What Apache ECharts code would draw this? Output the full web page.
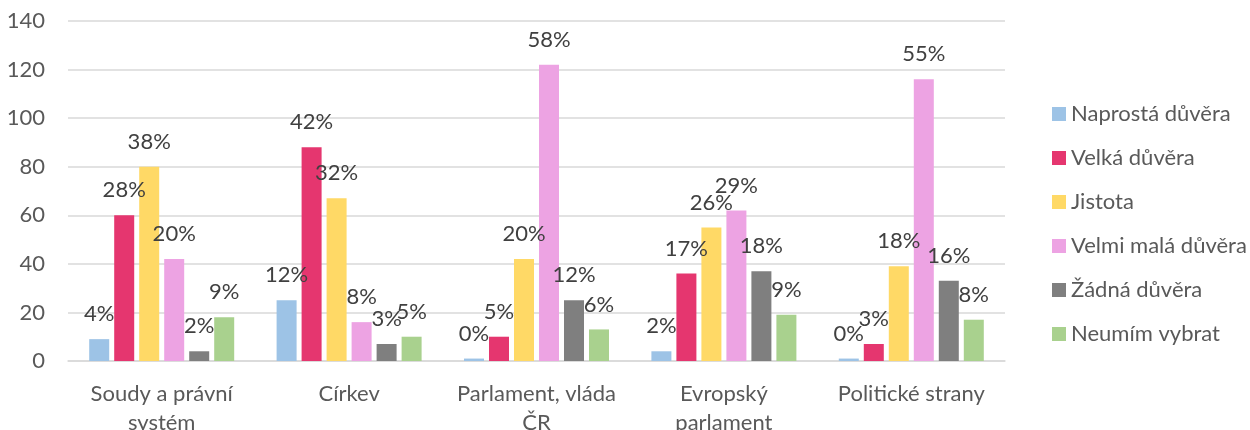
<!DOCTYPE html>
<html>
<head>
<meta charset="utf-8">
<script src="https://cdn.jsdelivr.net/npm/echarts@6/dist/echarts.min.js"></script>
<style>
  html, body { margin: 0; padding: 0; background: #fff; }
  #chart { width: 1250px; height: 430px; }
</style>
</head>
<body>
<div id="chart"></div>
<script>
// data
const categories = ["Soudy a právní\nsystém", "Církev", "Parlament, vláda\nČR", "Evropský\nparlament", "Politické strany"];
const seriesNames = ["Naprostá důvěra", "Velká důvěra", "Jistota", "Velmi malá důvěra", "Žádná důvěra", "Neumím vybrat"];
const colors = ["#9dc3e6", "#e5366f", "#ffd966", "#eda3e3", "#7f7f7f", "#a9d18e"];

const naprosta = [9, 25, 1, 4, 1];
const velka = [60, 88, 10, 36, 7];
const jistota = [80, 67, 42, 55, 39];
const velmiMala = [42, 16, 122, 62, 116];
const zadna = [4, 7, 25, 37, 33];
const neumim = [18, 10, 13, 19, 17];

const pctNaprosta = [4, 12, 0, 2, 0];
const pctVelka = [28, 42, 5, 17, 3];
const pctJistota = [38, 32, 20, 26, 18];
const pctVelmiMala = [20, 8, 58, 29, 55];
const pctZadna = [2, 3, 12, 18, 16];
const pctNeumim = [9, 5, 6, 9, 8];

const values = [naprosta, velka, jistota, velmiMala, zadna, neumim];
const pcts = [pctNaprosta, pctVelka, pctJistota, pctVelmiMala, pctZadna, pctNeumim];

const FONT = "Lato";
const FS = 22;

const chart = echarts.init(document.getElementById("chart"));

const series = seriesNames.map((name, i) => ({
  name: name,
  type: "bar",
  barWidth: 20,
  barGap: "25%",
  data: values[i],
  itemStyle: { color: colors[i] },
  label: {
    show: true,
    position: "top",
    distance: 14,
    color: "#404040",
    fontFamily: FONT,
    fontSize: FS,
    formatter: p => pcts[i][p.dataIndex] + "%"
  }
}));

chart.setOption({
  animation: false,
  grid: { left: 68, right: 245, top: 21, bottom: 69, outerBoundsMode: "none" },
  legend: {
    orient: "vertical",
    left: 1047,
    top: 98,
    itemWidth: 14,
    itemHeight: 14,
    itemGap: 22,
    icon: "rect",
    textStyle: { color: "#595959", fontFamily: FONT, fontSize: FS },
    data: seriesNames
  },
  xAxis: {
    type: "category",
    data: categories,
    axisTick: { show: false },
    axisLine: { lineStyle: { color: "#d9d9d9", width: 1.5 } },
    axisLabel: {
      color: "#595959",
      fontFamily: FONT,
      fontSize: FS,
      lineHeight: 29,
      margin: 18,
      interval: 0
    }
  },
  yAxis: {
    type: "value",
    min: 0,
    max: 140,
    interval: 20,
    axisLine: { show: false },
    axisTick: { show: false },
    splitLine: { lineStyle: { color: "#d9d9d9", width: 1.5 } },
    axisLabel: { color: "#595959", fontFamily: FONT, fontSize: FS, margin: 23 }
  },
  series: series
});
</script>
</body>
</html>
